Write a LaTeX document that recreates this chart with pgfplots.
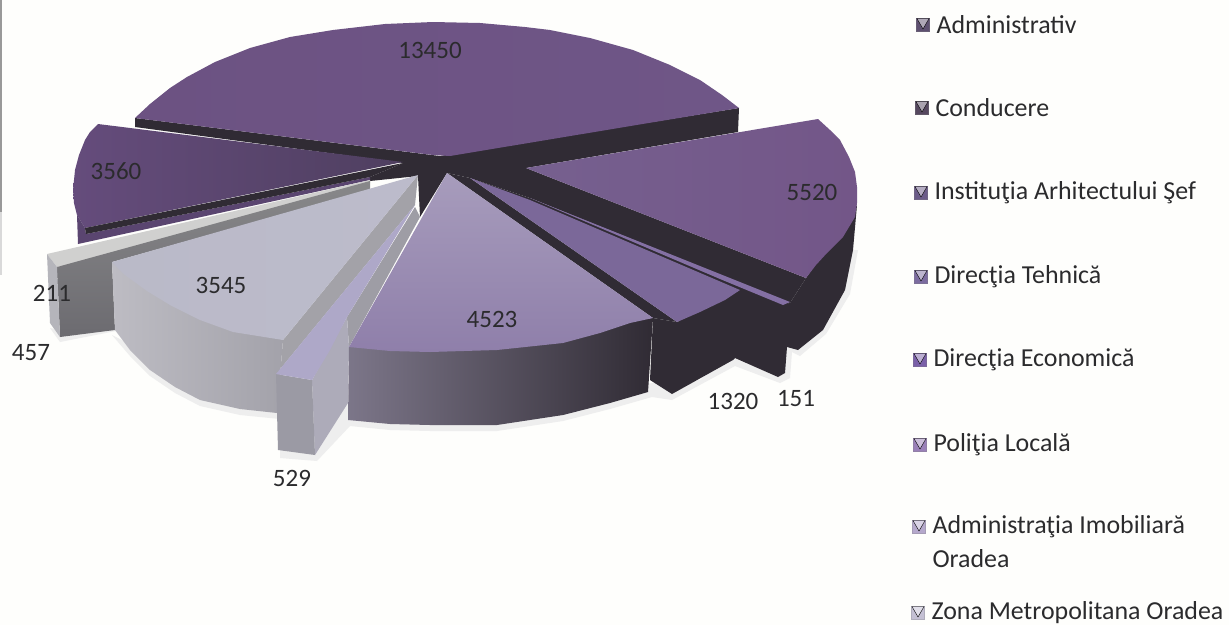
\documentclass[border=0pt]{standalone}
\usepackage{fontspec}
\setmainfont{Carlito}
\usepackage{pgfplots}
\pgfplotsset{compat=1.18}
\definecolor{darkside}{HTML}{302B34}
\definecolor{inkc}{HTML}{2B2B2D}
\definecolor{paper}{HTML}{FEFEFC}
\definecolor{shadow}{HTML}{EEEEEE}
\definecolor{topA}{HTML}{6C5282}
\definecolor{topAr}{HTML}{6F5687}
\definecolor{topB}{HTML}{654C7C}
\definecolor{topBr}{HTML}{4F3F60}
\definecolor{sliver}{HTML}{5A4570}
\definecolor{topC}{HTML}{76608F}
\definecolor{topCr}{HTML}{735688}
\definecolor{topD}{HTML}{7B6899}
\definecolor{topE}{HTML}{8470A4}
\definecolor{topF}{HTML}{D0D0CF}
\definecolor{grayT}{HTML}{88888A}
\definecolor{grayB}{HTML}{6C6B70}
\definecolor{frontF}{HTML}{B5B5BB}
\definecolor{sideG}{HTML}{BDBCC3}
\definecolor{sideGm}{HTML}{ADABB9}
\definecolor{sideGr}{HTML}{A3A2AA}
\definecolor{bandG}{HTML}{A3A2A8}
\definecolor{topG}{HTML}{BABAC8}
\definecolor{topGr}{HTML}{BCBBCB}
\definecolor{bandH}{HTML}{9E9DA5}
\definecolor{frontH}{HTML}{9B9AA4}
\definecolor{topH}{HTML}{AEA8C8}
\definecolor{sideI}{HTML}{7C7689}
\definecolor{sideIm}{HTML}{4F4A57}
\definecolor{topI}{HTML}{A79CBC}
\definecolor{topIb}{HTML}{8F7FAA}
\definecolor{keyA}{HTML}{5E5070}
\definecolor{keyB}{HTML}{56485F}
\definecolor{keyC}{HTML}{6B5B88}
\definecolor{keyD}{HTML}{7C6CA0}
\definecolor{keyE}{HTML}{7A60A8}
\definecolor{keyF}{HTML}{9A80B8}
\definecolor{keyG}{HTML}{B5A8CC}
\definecolor{keyH}{HTML}{C4C0D4}
% one flat or shaded face of the pie, outline in picture pixels
\newcommand{\face}[2]{\addplot[#1,draw=none,forget plot] coordinates {#2} -- cycle;}
\newcommand{\key}[4]{%
  \addplot[only marks,mark=square*,mark size=6.6pt,mark options={fill=#3,draw=#3!70!gray},forget plot] coordinates {(#1,#2)};
  \addplot[only marks,mark=triangle*,mark size=7pt,mark options={fill=#3!50!white,draw=none,yshift=3pt,rotate=180},forget plot] coordinates {(#1,#2)};
  \node[anchor=west,text=inkc,font=\fontsize{25.9}{28}\selectfont] at (axis cs:#1+10,#2) {#4};}
\begin{document}
\begin{tikzpicture}
\begin{axis}[
    scale only axis,
    width=1229pt, height=625pt,
    xmin=0, xmax=1229, ymin=0, ymax=625,
    y dir=reverse,
    axis lines=none,
    clip=true,
    nodes={font=\fontsize{25}{28}\selectfont},
]
% paper
\face{fill=paper}{(0,0)(1229,0)(1229,625)(0,625)}
\face{fill=gray!80}{(0,0)(2,0)(2,212)(0,212)}
\face{fill=gray!30}{(0,212)(2,212)(2,275)(0,275)}

% soft shadow under the lower rim
\face{fill=shadow}{(112,335)(130,356)(150,376)(175,393)(200,406)(240,415)(280,419)(280,458)(317,461)(350,426)(390,430)(430,431)(497,431)(563,421)(610,409)(652,397)(672,400)(735,366)(780,383)(790,378)(792,352)(800,356)(826,334)(850,294)(858,250)(850,250)(700,380)(400,400)(200,380)}
\face{fill=shadow}{(50,328)(60,342)(116,331)(116,322)(60,330)}

% dark sides in the middle and on the right
\face{fill=darkside}{(135,118)(135,127)(403,163)(370,177)(370,181)(418,176)(420,217)(447,173)(470,178)(530,198)(790,303)(806,278)(526,168)(738,132)(739,108)(440,156)}
\face{fill=darkside}{(447,173)(653,318)(677,322)(470,178)}
\face{fill=darkside}{(470,178)(530,198)(790,303)(783,306)(740,291)}
\face{fill=darkside}{(740,290)(783,305)(790,303)(806,278)(857,205)(853,250)(845,290)(823,330)(798,350)(787,347)(785,373)(778,377)(735,358)(733,360)(672,394)(650,380)(653,318)(677,322)}

% 13450
\face{left color=topA,right color=topAr}{(135,118)(150,104)(170,88)(187,77)(215,62)(250,48)(290,37)(333,30)(385,24)(433,22)(480,23)(525,27)(550,30)(590,38)(633,50)(670,65)(700,80)(722,95)(739,108)(450,156)(433,155)}
% 3560
\face{left color=topB,right color=topBr}{(98,124)(90,132)(85,140)(79,155)(75,170)(73,190)(74,203)(77,215)(85,228)(403,162)}
\face{fill=sliver}{(77,215)(78,244)(370,180)(370,177)(86,234)(85,228)}
\face{fill=darkside}{(85,228)(86,234)(370,177)(403,163)}

% 5520
\face{left color=topC,right color=topCr}{(526,168)(818,119)(830,130)(840,140)(849,157)(855,172)(857,187)(857,203)(855,217)(843,237)(827,253)(816,265)(806,278)}

% 1320 and 151
\face{fill=topD}{(470,178)(530,200)(740,290)(725,300)(700,312)(677,322)}
\face{fill=topE}{(530,198)(790,302)(783,305)(720,279)}

% 211 and 457
\face{fill=topF}{(47,254)(57,267)(110,255)(370,183)(370,180)}
\face{top color=grayT,bottom color=grayB}{(57,267)(370,181)(370,190)(112,262)(115,330)(60,337)}
\face{fill=frontF}{(47,254)(57,267)(60,337)(50,323)}

% 3545
\face{left color=sideG,middle color=sideGm,right color=sideGr}{(112,262)(115,330)(130,350)(150,370)(175,387)(200,400)(240,409)(277,413)(283,340)}
\face{fill=bandG}{(418,175)(283,340)(277,413)(277,373)(415,205)}
\face{left color=topG,right color=topGr}{(112,262)(125,275)(147,291)(170,305)(200,320)(233,332)(283,340)(418,175)}

% 529
\face{fill=bandH}{(415,207)(347,317)(349,347)(420,217)}
\face{fill=sideGm}{(312,380)(347,317)(349,347)(348,403)(315,455)}
\face{fill=frontH}{(276,374)(312,380)(315,455)(278,450)}
\face{fill=topH}{(415,205)(276,374)(312,380)(330,350)(347,317)(380,263)}

% 4523
\face{left color=sideI,middle color=sideIm,right color=darkside}{(349,347)(348,420)(390,424)(430,425)(497,425)(563,415)(610,403)(648,392)(653,318)}
\face{top color=topI,bottom color=topIb}{(447,173)(349,347)(390,351)(430,352)(497,350)(563,343)(600,333)(630,323)(653,318)}

% data labels
\node[text=inkc] at (axis cs:430,50) {13450};
\node[text=inkc] at (axis cs:116,171) {3560};
\node[text=inkc] at (axis cs:221,285) {3545};
\node[text=inkc] at (axis cs:52,293) {211};
\node[text=inkc] at (axis cs:31,353) {457};
\node[text=inkc] at (axis cs:292,478) {529};
\node[text=inkc] at (axis cs:492,319) {4523};
\node[text=inkc] at (axis cs:733,401) {1320};
\node[text=inkc] at (axis cs:796,399) {151};
\node[text=inkc] at (axis cs:812,192) {5520};

% legend
\key{923}{25}{keyA}{Administrativ}
\key{922}{108}{keyB}{Conducere}
\key{921}{193}{keyC}{Instituţia Arhitectului Şef}
\key{921}{277}{keyD}{Direcţia Tehnică}
\key{920}{360}{keyE}{Direcţia Economică}
\key{920}{445}{keyF}{Poliţia Locală}
\key{919}{527}{keyG}{Administraţia Imobiliară}
\node[anchor=west,text=inkc,font=\fontsize{25.9}{28}\selectfont] at (axis cs:929,559) {Oradea};
\key{918}{613}{keyH}{Zona Metropolitana Oradea}
\end{axis}
\end{tikzpicture}
\end{document}
